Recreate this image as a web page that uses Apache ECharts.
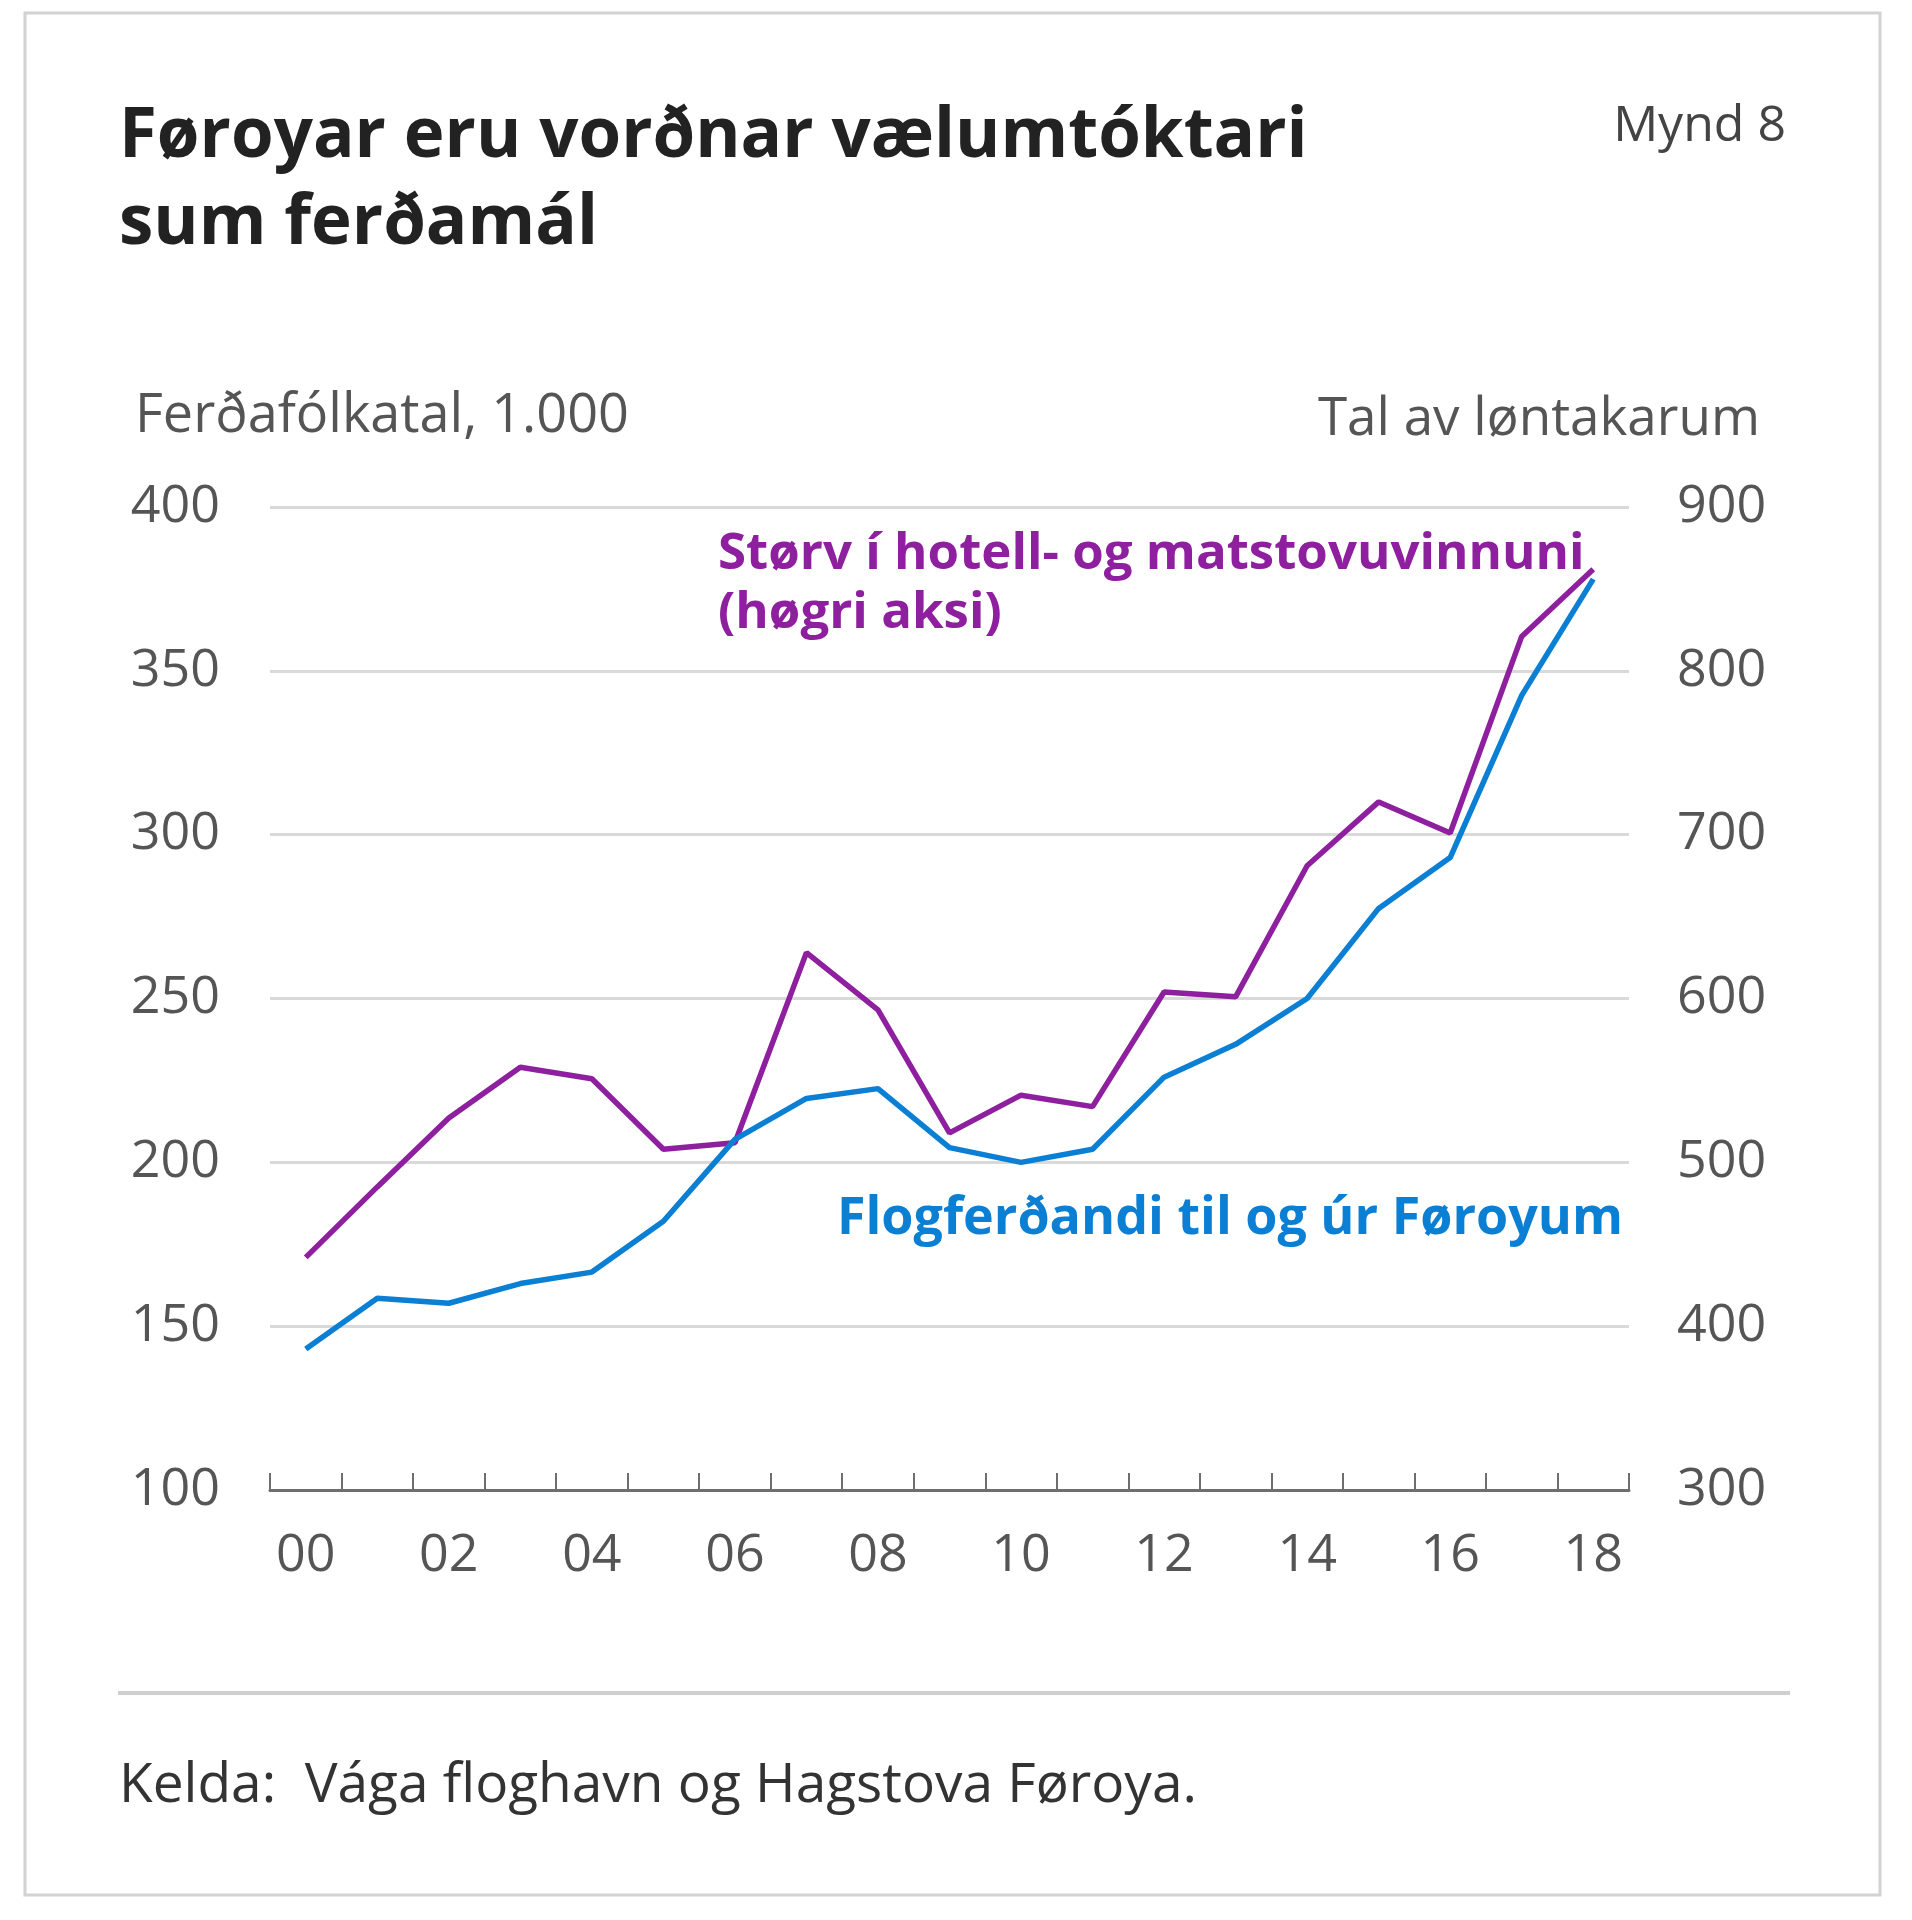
<!DOCTYPE html>
<html>
<head>
<meta charset="utf-8">
<script src="https://cdn.jsdelivr.net/npm/echarts@6/dist/echarts.min.js"></script>
<style>
    html, body { margin: 0; padding: 0; background: #fff; }
    #chart { width: 1912px; height: 1920px; }
</style>
</head>
<body>
<div id="chart"></div>
<script>
    // ár 2000-2018
    var years = ['00', '01', '02', '03', '04', '05', '06', '07', '08', '09',
        '10', '11', '12', '13', '14', '15', '16', '17', '18'];
    // Flogferðandi til og úr Føroyum, 1.000 (vinstri aksi)
    var passengers = [143, 158.5, 157, 163, 166.5, 182, 207, 219.5, 222.5, 204.5,
        200, 204, 226, 236, 250, 277.5, 293, 342.5, 378];
    // Størv í hotell- og matstovuvinnuni (høgri aksi)
    var hotelJobs = [442, 485, 527, 558, 551, 508, 512, 628, 593, 518,
        541, 534, 604, 601, 681, 720, 701, 821, 862];
    var leftTicks = {min: 100, max: 400, interval: 50};
    var rightTicks = {min: 300, max: 900, interval: 100};

    var purple = '#8e1f9e';
    var blue = '#0a7fd4';
    var font = '"Open Sans", "Noto Sans", sans-serif';

    function label(x, y, text, size, color, align, bold, lineHeight) {
        return {
            type: 'text',
            style: {
                x: x, y: y, text: text, fill: color,
                fontSize: size,
                fontFamily: font,
                fontWeight: bold ? 'bold' : 'normal',
                lineHeight: lineHeight || size * 1.3,
                align: align, verticalAlign: 'middle'
            }
        };
    }

    var dom = echarts.init(document.getElementById('chart'));
    var option = {
        backgroundColor: '#ffffff',
        animation: false,
        textStyle: {fontFamily: font},
        grid: {
            left: 270,
            right: 283,
            top: 507,
            bottom: 430
        },
        xAxis: {
            type: 'category',
            data: years,
            boundaryGap: true,
            axisLine: {lineStyle: {color: '#6e6e6e', width: 3}},
            axisTick: {
                show: true,
                inside: true,
                length: 17,
                interval: 0,
                lineStyle: {color: '#6e6e6e', width: 2}
            },
            axisLabel: {
                interval: 1,
                margin: 40,
                color: '#555',
                fontSize: 52,
                fontFamily: font
            }
        },
        yAxis: [{
            type: 'value',
            min: leftTicks.min,
            max: leftTicks.max,
            interval: leftTicks.interval,
            axisLine: {show: false},
            axisTick: {show: false},
            splitLine: {lineStyle: {color: '#d9d9d9', width: 3}},
            axisLabel: {margin: 50, color: '#555', fontSize: 52, fontFamily: font}
        }, {
            type: 'value',
            min: rightTicks.min,
            max: rightTicks.max,
            interval: rightTicks.interval,
            axisLine: {show: false},
            axisTick: {show: false},
            splitLine: {show: false},
            axisLabel: {margin: 48, color: '#555', fontSize: 52, fontFamily: font}
        }],
        series: [{
            name: 'Flogferðandi til og úr Føroyum',
            type: 'line',
            yAxisIndex: 0,
            data: passengers,
            symbol: 'none',
            lineStyle: {color: blue, width: 5.5},
            z: 3
        }, {
            name: 'Størv í hotell- og matstovuvinnuni',
            type: 'line',
            yAxisIndex: 1,
            data: hotelJobs,
            symbol: 'none',
            lineStyle: {color: purple, width: 5.5},
            z: 2
        }],
        graphic: [
            // ramma
            {type: 'rect', shape: {x: 25, y: 13, width: 1855, height: 1882},
                style: {fill: 'none', stroke: '#d2d2d2', lineWidth: 3}},
            label(119, 181, 'Føroyar eru vorðnar vælumtóktari\nsum ferðamál', 69, '#222', 'left', true, 87),
            label(1786, 127, 'Mynd 8', 50, '#444', 'right'),
            label(135, 417, 'Ferðafólkatal, 1.000', 54, '#555', 'left'),
            label(1760, 420, 'Tal av løntakarum', 53, '#555', 'right'),
            label(718, 584, 'Størv í hotell- og matstovuvinnuni\n(høgri aksi)', 51, purple, 'left', true, 59),
            label(1623, 1219, 'Flogferðandi til og úr Føroyum', 52, blue, 'right', true),
            {type: 'line', shape: {x1: 118, y1: 1693, x2: 1790, y2: 1693},
                style: {stroke: '#cfcfcf', lineWidth: 4}},
            label(119, 1786, 'Kelda:  Vága floghavn og Hagstova Føroya.', 55, '#333', 'left')
        ]
    };
    dom.setOption(option);
    window.addEventListener('resize', dom.resize);
</script>
</body>
</html>
